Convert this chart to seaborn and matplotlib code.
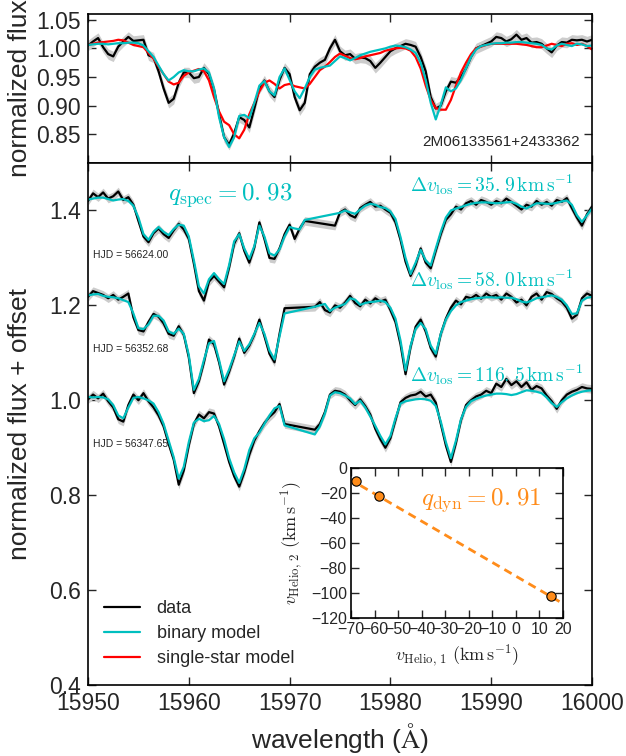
import warnings
warnings.filterwarnings('ignore')

import numpy as np
import pandas as pd
import seaborn as sns
import matplotlib
matplotlib.use('Agg')
import matplotlib.pyplot as plt
from matplotlib.lines import Line2D

nan = np.nan

# wavelength grid shared by all spectra (0.5 A steps, 15950 -> 16000)
wave = np.arange(15950.0, 16000.01, 0.5)

# ---- top panel: 2M06133561+2433362, one epoch ----
top_data = [1.005, 1.012, 1.018, 1.002, 0.990, 0.986, 1.003, 1.012, 1.020, 1.013,
            1.014, 1.015, 0.988, 0.984, 0.960, 0.930, 0.905, 0.912, 0.940, 0.958,
            0.958, 0.948, 0.950, 0.966, 0.955, 0.928, 0.885, 0.845, 0.832, 0.852,
            0.880, 0.875, 0.862, 0.895, 0.930, 0.944, 0.925, 0.915, 0.945, 0.966,
            0.955, 0.915, 0.892, 0.905, 0.955, 0.968, 0.975, 0.980, 1.000, 1.015,
            0.995, 0.988, 0.990, 0.982, 0.984, 0.983, 0.978, 0.966, 0.975, 0.985,
            0.995, 1.000, 1.004, 1.008, 1.006, 1.003, 0.985, 0.960, 0.915, 0.895,
            0.900, 0.925, 0.942, 0.940, 0.950, 0.965, 0.985, 1.000, 1.004, 1.008,
            1.012, 1.020, 1.018, 1.012, 1.016, 1.024, 1.015, 1.018, 1.010, 1.011,
            1.008, 1.000, 0.993, 1.005, 1.011, 1.010, 1.015, 1.014, 1.015, 1.012,
            1.015]
top_binary = [1.006, 1.007, 1.008, 1.008, 1.007, 1.008, 1.009, 1.009, 1.010, 1.010,
              1.009, 1.005, 0.995, 0.985, 0.970, 0.955, 0.944, 0.950, 0.958, 0.962,
              0.960, 0.960, 0.963, 0.965, 0.958, 0.930, 0.880, 0.845, 0.828, 0.845,
              0.882, 0.884, 0.878, 0.905, 0.935, 0.943, 0.925, 0.918, 0.950, 0.965,
              0.945, 0.925, 0.913, 0.930, 0.950, 0.963, 0.966, 0.968, 0.970, 0.978,
              0.986, 0.983, 0.979, 0.983, 0.988, 0.991, 0.994, 0.996, 0.998, 1.000,
              1.003, 1.005, 1.004, 1.002, 0.998, 0.992, 0.975, 0.945, 0.905, 0.876,
              0.902, 0.932, 0.925, 0.930, 0.945, 0.965, 0.985, 0.998, 1.004, 1.006,
              1.008, 1.009, 1.009, 1.010, 1.010, 1.011, 1.011, 1.010, 1.009, 1.008,
              1.006, 1.000, 0.998, 1.005, 1.008, 1.006, 1.004, 1.008, 1.007, 1.004,
              1.005]
top_single = [1.006, 1.008, 1.010, 1.011, 1.012, 1.013, 1.015, 1.014, 1.010, 1.006,
              1.004, 1.002, 0.992, 0.982, 0.968, 0.955, 0.942, 0.937, 0.940, 0.952,
              0.958, 0.961, 0.964, 0.960, 0.944, 0.915, 0.890, 0.872, 0.866, 0.850,
              0.843, 0.858, 0.885, 0.905, 0.925, 0.940, 0.944, 0.938, 0.930, 0.936,
              0.938, 0.934, 0.932, 0.930, 0.938, 0.950, 0.962, 0.968, 0.976, 0.985,
              0.991, 0.987, 0.983, 0.981, 0.983, 0.986, 0.988, 0.990, 0.992, 0.996,
              0.998, 1.000, 1.001, 1.000, 0.996, 0.985, 0.965, 0.935, 0.910, 0.896,
              0.893, 0.893, 0.910, 0.935, 0.958, 0.975, 0.990, 1.000, 1.003, 1.006,
              1.008, 1.008, 1.008, 1.008, 1.008, 1.008, 1.007, 1.006, 1.004, 1.002,
              1.002, 1.005, 1.008, 1.006, 1.004, 1.008, 1.009, 1.006, 1.008, 1.004,
              0.998]

# ---- lower panel: three epochs, already shifted by their offsets ----
hjd_labels = ['HJD = 56624.00', 'HJD = 56352.68', 'HJD = 56347.65']
offsets = [0.4, 0.2, 0.0]
dv_labels = [r'$\Delta v_{\rm los} = 35.\hspace{0.08}9\,\rm km\,s^{-1}$',
             r'$\Delta v_{\rm los} = 58.\hspace{0.08}0\,\rm km\,s^{-1}$',
             r'$\Delta v_{\rm los} = 116.\hspace{0.08}5\,\rm km\,s^{-1}$']

epoch1_data = [1.420, 1.436, 1.428, 1.438, 1.425, 1.430, 1.440, 1.422, 1.428, 1.412,
               1.378, 1.345, 1.333, 1.352, 1.362, 1.350, 1.342, 1.358, 1.372, 1.360,
               1.340, 1.288, 1.230, 1.210, 1.250, 1.262, 1.250, 1.238, 1.280, 1.330,
               1.352, 1.315, 1.290, 1.322, 1.375, 1.340, 1.300, 1.298, 1.320, 1.350,
               1.370, 1.340, 1.362, 1.378, nan, nan, nan, nan, nan, 1.368,
               1.396, 1.402, 1.390, 1.385, 1.405, 1.412, 1.418, 1.408, 1.410, 1.402,
               1.395, 1.375, 1.338, 1.292, 1.262, 1.285, 1.320, 1.290, 1.278, 1.315,
               1.350, 1.380, 1.392, 1.408, 1.402, 1.415, 1.420, 1.412, 1.422, 1.418,
               1.412, 1.420, 1.415, 1.425, 1.418, 1.410, 1.402, 1.412, 1.408, 1.420,
               1.412, 1.418, 1.410, 1.422, 1.418, 1.426, 1.405, 1.385, 1.368, 1.392,
               1.408]
epoch1_binary = [1.423, 1.425, 1.427, 1.427, 1.424, 1.421, 1.423, 1.424, 1.420, 1.410,
                 1.385, 1.350, 1.338, 1.355, 1.365, 1.355, 1.348, 1.361, 1.370, 1.368,
                 1.345, 1.295, 1.240, 1.225, 1.255, 1.268, 1.255, 1.245, 1.285, 1.335,
                 1.350, 1.320, 1.298, 1.325, 1.368, 1.345, 1.310, 1.305, 1.318, 1.345,
                 1.365, 1.362, 1.360, 1.380, nan, nan, nan, nan, nan, nan,
                 1.395, 1.400, 1.396, 1.393, 1.402, 1.410, 1.414, 1.412, 1.407, 1.405,
                 1.398, 1.382, 1.344, 1.300, 1.266, 1.290, 1.317, 1.295, 1.284, 1.320,
                 1.355, 1.385, 1.400, 1.404, 1.407, 1.411, 1.414, 1.416, 1.417, 1.417,
                 1.416, 1.415, 1.416, 1.417, 1.418, 1.414, 1.408, 1.404, 1.410, 1.415,
                 1.415, 1.414, 1.414, 1.416, 1.419, 1.421, 1.412, 1.390, 1.376, 1.390,
                 1.404]

epoch2_data = [1.218, 1.230, 1.226, 1.222, 1.215, 1.222, 1.212, 1.218, 1.225, 1.175,
               1.148, 1.145, 1.165, 1.182, 1.176, 1.162, 1.140, 1.136, 1.156, 1.138,
               1.090, 1.015, 1.040, 1.080, 1.128, 1.118, 1.080, 1.033, 1.060, 1.092,
               1.130, 1.100, 1.115, 1.138, 1.170, 1.135, 1.098, 1.080, 1.140, 1.194,
               nan, nan, nan, nan, nan, 1.197, 1.207, 1.190, 1.185, 1.200,
               1.195, 1.206, 1.220, 1.205, 1.198, 1.212, 1.204, 1.215, 1.208, 1.212,
               1.190, 1.165, 1.118, 1.055, 1.112, 1.155, 1.170, 1.145, 1.110, 1.092,
               1.140, 1.172, 1.195, 1.210, 1.202, 1.218, 1.215, 1.222, 1.214, 1.225,
               1.218, 1.222, 1.212, 1.225, 1.218, 1.206, 1.212, 1.200, 1.218, 1.225,
               1.212, 1.228, 1.224, 1.215, 1.208, 1.195, 1.172, 1.180, 1.215, 1.225,
               1.220]
epoch2_binary = [1.221, 1.223, 1.224, 1.220, 1.218, 1.217, 1.215, 1.211, 1.207, 1.183,
                 1.152, 1.150, 1.160, 1.178, 1.178, 1.168, 1.145, 1.140, 1.151, 1.140,
                 1.095, 1.022, 1.045, 1.085, 1.120, 1.125, 1.085, 1.040, 1.065, 1.095,
                 1.124, 1.104, 1.118, 1.140, 1.163, 1.140, 1.105, 1.086, 1.135, 1.183,
                 nan, nan, nan, nan, nan, 1.197, 1.200, 1.203, 1.188, 1.195,
                 1.199, 1.203, 1.215, 1.212, 1.201, 1.205, 1.207, 1.208, 1.210, 1.207,
                 1.195, 1.172, 1.126, 1.063, 1.115, 1.150, 1.163, 1.150, 1.115, 1.098,
                 1.140, 1.170, 1.188, 1.200, 1.207, 1.210, 1.213, 1.215, 1.216, 1.217,
                 1.217, 1.216, 1.217, 1.216, 1.216, 1.213, 1.208, 1.206, 1.210, 1.215,
                 1.217, 1.219, 1.221, 1.218, 1.212, 1.200, 1.182, 1.183, 1.210, 1.216,
                 1.218]

epoch3_data = [1.002, 1.012, 1.004, 1.014, 0.998, 0.985, 0.960, 0.955, 0.990, 1.012,
               1.000, 1.015, 0.998, 0.985, 0.968, 0.945, 0.908, 0.875, 0.822, 0.852,
               0.905, 0.950, 0.970, 0.962, 0.975, 0.972, 0.945, 0.908, 0.870, 0.840,
               0.818, 0.848, 0.885, 0.915, 0.935, 0.952, 0.965, 0.975, 0.992, 0.950,
               nan, nan, nan, nan, nan, 0.938, 0.950, 0.975, 1.012, 1.020,
               1.018, 1.012, 1.000, 0.990, 1.002, 0.988, 0.970, 0.940, 0.918, 0.900,
               0.920, 0.958, 0.996, 1.005, 1.010, 1.012, 1.018, 1.008, 1.012, 0.995,
               0.950, 0.905, 0.870, 0.910, 0.958, 0.990, 1.000, 1.008, 1.012, 1.020,
               1.015, 1.035, 1.028, 1.045, 1.032, 1.040, 1.028, 1.038, 1.022, 1.030,
               1.025, 1.010, 0.998, 0.982, 1.000, 1.012, 1.018, 1.022, 1.028, 1.025,
               1.024]
epoch3_binary = [1.007, 1.006, 1.007, 1.006, 1.002, 0.990, 0.968, 0.962, 0.985, 1.005,
                 1.007, 1.004, 1.000, 0.993, 0.975, 0.950, 0.915, 0.880, 0.835, 0.860,
                 0.912, 0.953, 0.961, 0.956, 0.958, 0.967, 0.950, 0.918, 0.878, 0.848,
                 0.826, 0.855, 0.895, 0.920, 0.932, 0.950, 0.968, 0.983, 0.988, 0.947,
                 nan, nan, nan, nan, nan, 0.928, 0.945, 0.972, 1.010, 1.017,
                 1.015, 1.010, 1.004, 0.992, 0.999, 0.985, 0.966, 0.946, 0.925, 0.907,
                 0.925, 0.962, 0.993, 0.998, 1.000, 1.002, 1.003, 1.002, 0.999, 0.988,
                 0.955, 0.912, 0.878, 0.915, 0.960, 0.986, 0.998, 1.003, 1.007, 1.010,
                 1.012, 1.014, 1.014, 1.013, 1.011, 1.013, 1.017, 1.021, 1.020, 1.018,
                 1.015, 1.006, 0.994, 0.986, 0.996, 1.004, 1.010, 1.015, 1.018, 1.020,
                 1.021]

flux_err = 0.009

# ---- inset: heliocentric velocities of the two components ----
v_helio_1 = [-68, -58, 15]
v_helio_2 = [-10, -22, -102]
q_dyn = 0.91
fit_intercept = -86.5
fit_v1_range = [-66, 18.5]

CYAN = '#00bfbf'
ORANGE = '#ff8c1a'

sns.set_style('ticks')
plt.rcParams['font.family'] = ['Liberation Sans', 'DejaVu Sans']
plt.rcParams['mathtext.fontset'] = 'cm'
plt.rcParams['axes.linewidth'] = 1.2
plt.rcParams['axes.edgecolor'] = 'black'


def draw(axis, flux, color, band=False):
    d = pd.DataFrame({'wave': wave, 'flux': flux}).dropna()
    if band:
        axis.fill_between(d['wave'], d['flux'] - flux_err, d['flux'] + flux_err,
                          color='0.8', lw=0)
    sns.lineplot(data=d, x='wave', y='flux', ax=axis, color=color, lw=1.6,
                 estimator=None, sort=False)


fig = plt.figure(figsize=(6.26, 7.56), dpi=100)
ax_top = fig.add_axes([0.1406, 0.7844, 0.8051, 0.1971])
ax = fig.add_axes([0.1406, 0.0939, 0.8051, 0.6905])
ax_in = fig.add_axes([0.5607, 0.1825, 0.3387, 0.1984])

# top panel
draw(ax_top, top_data, 'black', band=True)
draw(ax_top, top_single, 'red')
draw(ax_top, top_binary, CYAN)
ax_top.set_xlim(15950, 16000)
ax_top.set_ylim(0.80, 1.06)
ax_top.set_yticks([0.85, 0.90, 0.95, 1.00, 1.05])
ax_top.set_xticks(np.arange(15950, 16001, 10))
ax_top.set_xticklabels([])
ax_top.set_xlabel('')
ax_top.set_ylabel('normalized flux', fontsize=19)
ax_top.text(0.976, 0.141, '2M06133561+2433362', transform=ax_top.transAxes,
            ha='right', va='center', fontsize=11)

# lower panel
epochs = [(epoch1_data, epoch1_binary), (epoch2_data, epoch2_binary),
          (epoch3_data, epoch3_binary)]
for (d, m), off, hjd, dv in zip(epochs, offsets, hjd_labels, dv_labels):
    draw(ax, d, 'black', band=True)
    draw(ax, m, CYAN)
    ax.text(15950.5, 0.907 + off, hjd, fontsize=7.5, va='center', ha='left')
    ax.text(15981.9, 1.04 + off, dv, fontsize=14, color=CYAN, va='baseline')

ax.text(15957.9, 1.423, r'$q_{\rm spec} = 0.\hspace{0.08}93$', fontsize=18,
        color=CYAN, va='baseline')
ax.set_xlim(15950, 16000)
ax.set_ylim(0.4, 1.5)
ax.set_yticks([0.4, 0.6, 0.8, 1.0, 1.2, 1.4])
ax.set_xticks(np.arange(15950, 16001, 10))
ax.set_xlabel(r'wavelength ($\mathrm{\AA}$)', fontsize=19)
ax.set_ylabel('normalized flux + offset', fontsize=19)

handles = [Line2D([], [], color='black', lw=1.6),
           Line2D([], [], color=CYAN, lw=1.6),
           Line2D([], [], color='red', lw=1.6)]
ax.legend(handles, ['data', 'binary model', 'single-star model'],
          loc='lower left', bbox_to_anchor=(0.018, 0.02), frameon=False,
          fontsize=13, handlelength=2.0, handletextpad=0.9, labelspacing=0.45,
          borderaxespad=0)

for a in (ax_top, ax):
    a.tick_params(direction='in', top=True, right=True, length=6, width=1,
                  labelsize=16.5, pad=5)
    a.yaxis.set_label_coords(-0.112, 0.5)

# inset
xs = np.array(fit_v1_range)
sns.lineplot(x=xs, y=-xs / q_dyn + fit_intercept, ax=ax_in, color=ORANGE, lw=2,
             dashes=False, linestyle='--')
ax_in.lines[-1].set_dashes((3, 2))
sns.scatterplot(x=v_helio_1, y=v_helio_2, ax=ax_in, color=ORANGE, s=45,
                edgecolor='black', linewidth=0.8, zorder=3)
ax_in.text(-40.3, -29.6, r'$q_{\rm dyn} = 0.\hspace{0.08}91$', fontsize=18,
           color=ORANGE, va='baseline')
ax_in.set_xlim(-70, 20)
ax_in.set_ylim(-120, 0)
ax_in.set_xticks(np.arange(-70, 21, 10))
ax_in.set_yticks(np.arange(-120, 1, 20))
ax_in.tick_params(direction='in', top=True, right=True, length=6, width=1,
                  labelsize=11.5, pad=3)
ax_in.set_xlabel(r'$v_{\rm Helio,\,1}\ (\rm km\,s^{-1})$', fontsize=13)
ax_in.set_ylabel(r'$v_{\rm Helio,\,2}\ (\rm km\,s^{-1})$', fontsize=13)

fig.savefig('out.png', dpi=100)
